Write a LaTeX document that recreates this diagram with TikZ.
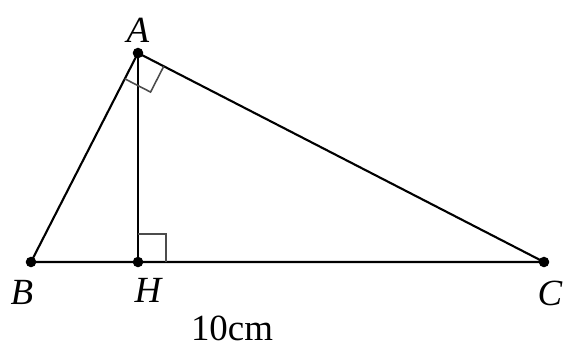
\documentclass[tikz,border=0pt]{standalone}
\usepackage{fontspec}
\setmainfont{Liberation Serif}
\usetikzlibrary{calc}

\begin{document}
\begin{tikzpicture}[
		x=0.02cm, y=-0.02cm,
		pt/.style={circle, fill, inner sep=0pt, minimum size=6pt},
		side/.style={line width=1.2pt},
		rightang/.style={draw=black!70, line width=0.9pt},
		lbl/.style={font=\fontsize{21}{24}\selectfont\itshape, inner sep=0pt}
	]
		\useasboundingbox (0,0) rectangle (565,349);
		\node[pt] (A) at (138,53) {};
		\node[pt] (B) at (31,262) {};
		\node[pt] (H) at (138,262) {};
		\node[pt] (C) at (544,262) {};
		\draw[side] (A.center) -- (B.center) -- (C.center) -- cycle;
		\draw[side] (A.center) -- (H.center);
		% right angles
		\coordinate (hA) at ($(H)!0.56cm!(A)$);
		\coordinate (hC) at ($(H)!0.56cm!(C)$);
		\draw[rightang] (hA) -- ($(hA)+(hC)-(H)$) -- (hC);
		\coordinate (aB) at ($(A)!0.58cm!(B)$);
		\coordinate (aC) at ($(A)!0.58cm!(C)$);
		\draw[rightang] (aB) -- ($(aB)+(aC)-(A)$) -- (aC);
		% labels
		\node[lbl] (lblA) at (138,30) {A};
		\node[lbl] (lblB) at (22,292) {B};
		\node[lbl] (lblH) at (148,290) {H};
		\node[lbl] (lblC) at (550,293) {C};
		\node[font=\fontsize{21}{24}\selectfont, inner sep=0pt, anchor=base] (len) at (232,340) {10cm};
	\end{tikzpicture}
\end{document}
